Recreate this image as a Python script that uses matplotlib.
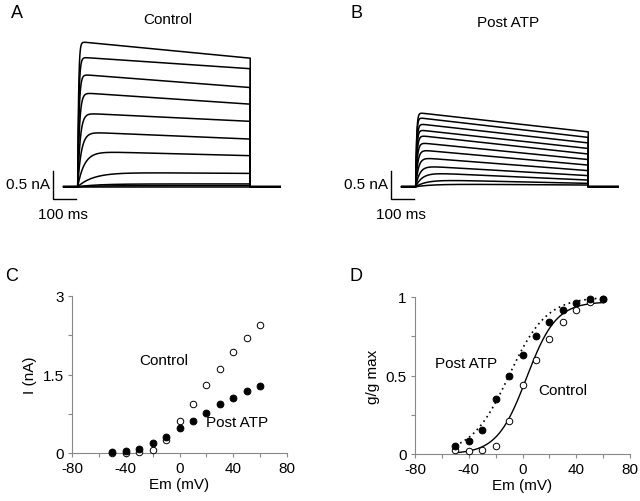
import numpy as np
import matplotlib
matplotlib.use("Agg")
import matplotlib.pyplot as plt

plt.rcParams['font.family'] = ['Liberation Sans', 'DejaVu Sans']

# ---------------- data ----------------
# Panel A (Control) current traces: peak and end-of-step amplitudes (nA), activation tau (ms)
ctrl_peak = [2.62, 2.34, 2.03, 1.70, 1.33, 0.99, 0.64, 0.26, 0.05, 0.02, 0.0]
ctrl_end = [2.32, 2.13, 1.79, 1.49, 1.18, 0.86, 0.56, 0.24, 0.05, 0.02, 0.0]
ctrl_tau = [4, 5, 6, 8, 11, 16, 30, 70, 90, 100, 100]

# Panel B (Post ATP)
atp_peak = [1.34, 1.25, 1.14, 1.03, 0.93, 0.80, 0.67, 0.53, 0.38, 0.26, 0.13, 0.05]
atp_end = [0.99, 0.89, 0.79, 0.69, 0.59, 0.49, 0.39, 0.29, 0.20, 0.12, 0.06, 0.03]
atp_tau = [4, 4, 5, 5, 6, 7, 9, 12, 18, 30, 50, 80]

step_ms = 760

# Panel C: I-V
em = [-50, -40, -30, -20, -10, 0, 10, 20, 30, 40, 50, 60]
iv_control = [0.0, 0.0, 0.02, 0.05, 0.25, 0.61, 0.94, 1.29, 1.61, 1.93, 2.20, 2.44]
iv_atp = [0.01, 0.03, 0.08, 0.20, 0.31, 0.47, 0.62, 0.77, 0.93, 1.05, 1.19, 1.28]

# Panel D: normalized conductance
g_control = [0.026, 0.02, 0.023, 0.05, 0.21, 0.44, 0.60, 0.73, 0.84, 0.92, 0.97, 0.99]
g_atp = [0.053, 0.085, 0.15, 0.35, 0.50, 0.63, 0.75, 0.84, 0.92, 0.96, 0.99, 0.99]

# Boltzmann fit parameters (gmax, V1/2, k)
fit_control = (0.97, 3.0, 11.0)
fit_atp = (1.0, -10.0, 14.0)

# ---------------- figure ----------------
W, H = 640, 502
fig = plt.figure(figsize=(W / 100, H / 100), dpi=100)


def px_axes(left, top, right, bottom):
    return fig.add_axes([left / W, 1 - bottom / H, (right - left) / W, (bottom - top) / H])


ms_per_px = 100 / 22.7
na_per_px = 1 / 55.4


def trace_panel(left, right, t0_px, peaks, ends, taus, title, title_x, title_y, letter, letter_x):
    top, bottom, base_px = 30, 215, 187.7
    ax = px_axes(left, top, right, bottom)
    ax.set_xlim((left - t0_px) * ms_per_px, (right - t0_px) * ms_per_px)
    ax.set_ylim(-(bottom - base_px) * na_per_px, (base_px - top) * na_per_px)
    ax.axis('off')
    t_pre = -14 * ms_per_px
    t_post = step_ms + 30 * ms_per_px
    t = np.linspace(0, step_ms, 800)
    for p, e, tau in zip(peaks, ends, taus):
        plateau = p + (e - p) * t / step_ms
        cur = plateau * (1 - np.exp(-t / tau))
        tt = np.concatenate([[t_pre, 0], t, [step_ms, t_post]])
        yy = np.concatenate([[0, 0], cur, [0, 0]])
        ax.plot(tt, yy, color='black', lw=1.1)
    # scale bar
    xb = -108
    ax.plot([xb, xb, xb + 100], [0.28, -0.22, -0.22], color='black', lw=1.0,
            solid_joinstyle='miter')
    ax.text(xb - 12, 0.04, '0.5 nA', ha='right', va='center', fontsize=11)
    ax.text(xb + 45, -0.36, '100 ms', ha='center', va='top', fontsize=11)
    fig.text(title_x / W, 1 - title_y / H, title, ha='center', va='center', fontsize=11)
    fig.text(letter_x / W, 1 - 14 / H, letter, ha='center', va='center', fontsize=13)
    return ax


trace_panel(40, 300, 77.7, ctrl_peak, ctrl_end, ctrl_tau, 'Control', 168, 20, 'A', 17)
trace_panel(380, 640, 415.7, atp_peak, atp_end, atp_tau, 'Post ATP', 508, 23, 'B', 357)

spine_col = '#888888'


def style_axes(ax):
    for s in ['top', 'right']:
        ax.spines[s].set_visible(False)
    for s in ['left', 'bottom']:
        ax.spines[s].set_color(spine_col)
        ax.spines[s].set_linewidth(0.8)
    ax.tick_params(direction='out', length=3, width=0.8, color=spine_col,
                   labelsize=11, pad=3)


# Panel C
axc = px_axes(72, 297, 287, 454)
axc.set_xlim(-80, 80)
axc.set_ylim(0, 3)
axc.scatter(em, iv_control, s=22, facecolor='white', edgecolor='black', linewidth=0.7, zorder=3, clip_on=False)
axc.scatter(em, iv_atp, s=24, facecolor='black', edgecolor='black', linewidth=0.7, zorder=4, clip_on=False)
axc.set_xticks(np.arange(-80, 81, 20))
axc.set_xticklabels(['-80', '', '-40', '', '0', '', '40', '', '80'])
axc.set_yticks([0, 0.75, 1.5, 2.25, 3])
axc.set_yticklabels(['0', '', '1.5', '', '3'])
style_axes(axc)
axc.set_xlabel('Em (mV)', fontsize=11, labelpad=1)
axc.set_ylabel('I (nA)', fontsize=11, labelpad=4)
axc.text(-12, 1.78, 'Control', ha='center', va='center', fontsize=11)
axc.text(43, 0.6, 'Post ATP', ha='center', va='center', fontsize=11)
fig.text(12 / W, 1 - 277 / H, 'C', ha='center', va='center', fontsize=13)

# Panel D
axd = px_axes(415, 298, 630, 455)
axd.set_xlim(-80, 80)
axd.set_ylim(0, 1)
v = np.linspace(-50, 60, 300)
gmax, vh, k = fit_control
axd.plot(v, gmax / (1 + np.exp(-(v - vh) / k)), color='black', lw=1.0)
gmax, vh, k = fit_atp
axd.plot(v, gmax / (1 + np.exp(-(v - vh) / k)), color='black', lw=1.2, ls=(0, (1, 2.2)))
axd.scatter(em, g_control, s=22, facecolor='white', edgecolor='black', linewidth=0.7, zorder=3, clip_on=False)
axd.scatter(em, g_atp, s=24, facecolor='black', edgecolor='black', linewidth=0.7, zorder=4, clip_on=False)
axd.set_xticks(np.arange(-80, 81, 20))
axd.set_xticklabels(['-80', '', '-40', '', '0', '', '40', '', '80'])
axd.set_yticks([0, 0.25, 0.5, 0.75, 1])
axd.set_yticklabels(['0', '', '0.5', '', '1'])
style_axes(axd)
axd.set_xlabel('Em (mV)', fontsize=11, labelpad=1)
axd.set_ylabel('g/g max', fontsize=11, labelpad=4)
axd.text(-42, 0.58, 'Post ATP', ha='center', va='center', fontsize=11)
axd.text(30, 0.405, 'Control', ha='center', va='center', fontsize=11)
fig.text(356 / W, 1 - 277 / H, 'D', ha='center', va='center', fontsize=13)

fig.savefig('out.png', dpi=100)
